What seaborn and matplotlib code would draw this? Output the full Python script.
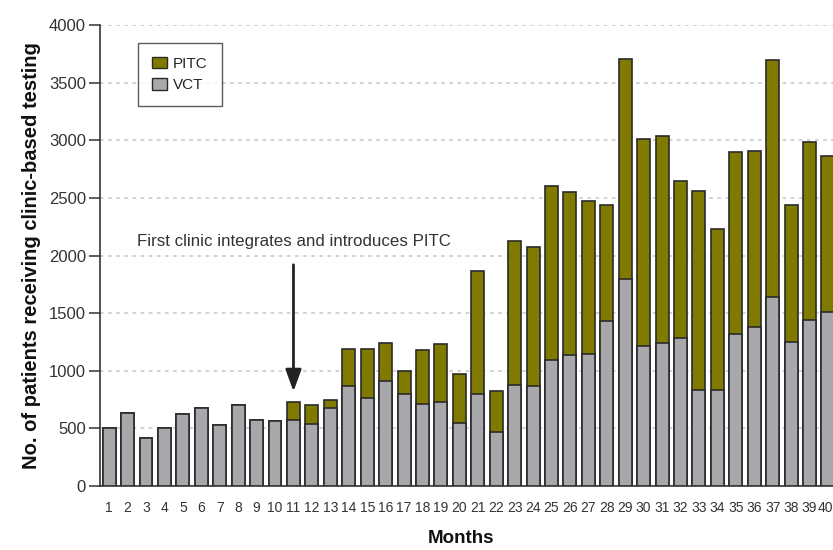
"""
Clinic-based testing per month, VCT vs PITC (stacked bars).
"""

import numpy as np
import pandas as pd

import matplotlib
matplotlib.use("Agg")
import matplotlib.pyplot as plt
import matplotlib.transforms as mtransforms
from matplotlib.patches import Patch
import seaborn as sns

# ── Data ────────────────────────────────────────────────────────
months = list(range(1, 41))
vct = [506, 631, 419, 506, 625, 677, 529, 700, 570, 564,
       575, 535, 674, 870, 761, 908, 796, 709, 726, 544,
       798, 469, 874, 868, 1091, 1134, 1145, 1429, 1796, 1217,
       1243, 1287, 836, 833, 1316, 1377, 1643, 1247, 1440, 1507]
total = [506, 631, 419, 506, 625, 677, 529, 700, 570, 564,
         729, 703, 749, 1186, 1186, 1243, 995, 1180, 1235, 969,
         1866, 827, 2128, 2076, 2603, 2548, 2476, 2438, 3702, 3013,
         3040, 2646, 2560, 2233, 2895, 2909, 3696, 2436, 2987, 2866]
pitc = [t - v for t, v in zip(total, vct)]

annot_text = "First clinic integrates and introduces PITC"
annot_month = 11

PITC_COL = "#817a00"
VCT_COL = "#a8a8ac"
EDGE = "#2a2a2a"
TXT = "#333333"

# ── Plot ─────────────────────────────────────────────────────────
sns.set_theme(style="white")
plt.rcParams["font.family"] = ["Liberation Sans", "DejaVu Sans"]

df = pd.DataFrame({"Month": [str(m) for m in months],
                   "Total": [v + p for v, p in zip(vct, pitc)],
                   "VCT": vct})
order = [str(m) for m in months]

fig = plt.figure(figsize=(8.33, 5.5), dpi=100)
ax = fig.add_axes([0.12, 0.1164, 0.885, 0.838])

sns.barplot(data=df, x="Month", y="Total", order=order, color=PITC_COL,
            saturation=1, width=0.7, edgecolor=EDGE, linewidth=1.2, ax=ax, zorder=3)
sns.barplot(data=df, x="Month", y="VCT", order=order, color=VCT_COL,
            saturation=1, width=0.7, edgecolor=EDGE, linewidth=1.2, ax=ax, zorder=4)

ax.set_xlim(-0.5, 39.5)
ax.set_ylim(0, 4000)
ax.set_yticks(np.arange(0, 4001, 500))
ax.yaxis.grid(True, linestyle=(0, (2, 2.5)), color="#cfcfcf", linewidth=1.3, zorder=0)
ax.set_axisbelow(True)

# month labels centred on bars, ticks on bar boundaries
ax.set_xticks(np.arange(len(months)))
ax.set_xticklabels(order)
ax.set_xticks(np.arange(len(months) + 1) - 0.5, minor=True)
ax.tick_params(axis="x", which="major", length=0, labelsize=10, pad=11, labelcolor=TXT)
ax.tick_params(axis="x", which="minor", length=10, width=1.1, color=TXT, direction="out")
ax.tick_params(axis="y", length=8, width=1.1, color=TXT, direction="out",
               labelsize=12, labelcolor=TXT, pad=2, left=True)

# nudge the last month label so it stays inside the canvas
last = ax.get_xticklabels()[-1]
last.set_transform(last.get_transform() +
                   mtransforms.ScaledTranslation(-3 / 100, 0, fig.dpi_scale_trans))

for side in ["top", "right"]:
    ax.spines[side].set_visible(False)
for side in ["left", "bottom"]:
    ax.spines[side].set_color(TXT)
    ax.spines[side].set_linewidth(1.2)

ax.set_xlabel("Months", fontsize=13.5, fontweight="bold", labelpad=12, color="#111111")
ax.xaxis.set_label_coords(0.49, -0.095)
ax.set_ylabel("No. of patients receiving clinic-based testing", fontsize=14.5,
              fontweight="bold", labelpad=6, color="#111111")

# annotation arrow over the first PITC month
xi = annot_month - 1
ax.text(xi, 2060, annot_text, ha="center", va="bottom", fontsize=12.2, color=TXT)
ax.annotate("", xy=(xi, 820), xytext=(xi, 1920),
            arrowprops=dict(arrowstyle="-|>,head_length=1.1,head_width=0.4",
                            color="#222222", lw=2.0, shrinkA=0, shrinkB=0))

handles = [Patch(facecolor=PITC_COL, edgecolor=EDGE, label="PITC"),
           Patch(facecolor=VCT_COL, edgecolor=EDGE, label="VCT")]
leg = ax.legend(handles=handles, loc="upper left", bbox_to_anchor=(0.0516, 0.961),
                borderaxespad=0, frameon=True, fancybox=False, fontsize=11,
                handlelength=1.0, handleheight=0.8, handletextpad=0.4,
                borderpad=0.9, labelspacing=0.45)
leg.get_frame().set_edgecolor(TXT)
leg.get_frame().set_linewidth(1.0)

fig.savefig("out.png", dpi=100)
plt.close()
